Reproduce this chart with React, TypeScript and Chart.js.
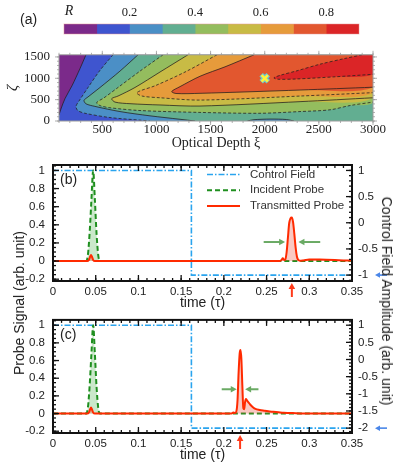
import React, { useEffect, useRef } from 'react';
import { Chart, registerables } from 'chart.js';
Chart.register(...registerables);

const SANS = '"Liberation Sans", Arial, sans-serif';
const SERIF = '"Liberation Serif", "Times New Roman", serif';

// ---------------- (a) contour map R(xi, zeta) ----------------
const levelColors = ['#7b2a8a', '#3f55cf', '#4b8fc6', '#62ae91', '#94bd5e', '#c8bb45', '#e69b3b', '#e2572f', '#db2527'];
const levelBounds = [0, 0.1, 0.2, 0.3, 0.4, 0.5, 0.6, 0.7, 0.8, 0.9];
const colorbarLabelValues = [0.015, 0.2, 0.4, 0.6, 0.8];
const xiMin = 100, xiMax = 3000, zetaMin = 0, zetaMax = 1550;
const xiTickStep = 500, zetaTickStep = 500;

// contour lines (xi, zeta)
const c1Xi = [349, 294, 220, 155, 118, 100];
const c1Zeta = [1550, 1228, 825, 523, 282, 141];
const c2Xi = [599, 479, 368, 294, 257, 275, 340, 571, 848, 940];
const c2Zeta = [1550, 1188, 785, 503, 342, 242, 181, 81, 20, 0];
const c3Xi = [830, 663, 479, 368, 331, 349, 432, 663, 940, 1218, 1356];
const c3Zeta = [1550, 1168, 785, 564, 483, 403, 342, 221, 121, 40, 0];
const islandXi = [1840, 1900, 2050, 2200, 2270];
const islandZeta = [0, 30, 45, 35, 0];
const c4Xi = [1061, 848, 645, 516, 448, 480, 571, 848, 1402, 1956, 2326, 2603, 2788, 3000];
const c4Zeta = [1550, 1168, 785, 543, 430, 360, 310, 245, 201, 181, 221, 262, 362, 443];
const c5Xi = [1291, 1033, 802, 645, 587, 617, 756, 1033, 1402, 2326, 3000];
const c5Zeta = [1550, 1147, 785, 584, 523, 443, 405, 375, 350, 453, 544];
const c6Xi = [1559, 1264, 987, 848, 818, 867, 1033, 1402, 2326, 3000];
const c6Zeta = [1550, 1147, 825, 705, 654, 584, 544, 490, 584, 664];
const c7Xi = [1901, 1633, 1402, 1218, 1141, 1181, 1402, 2326, 3000];
const c7Zeta = [1550, 1268, 1047, 805, 690, 644, 648, 725, 791];
const c8Xi = [2898, 2742, 2511, 2290, 2150, 2085, 2120, 2300, 2650, 3000];
const c8Zeta = [1550, 1465, 1330, 1170, 1075, 1010, 978, 985, 1035, 1093];
const markerXi = [2000];
const markerZeta = [1000];

// ---------------- (b), (c) probe signals ----------------
const timeMin = 0, timeMax = 0.35;
const controlT = [0, 0.162, 0.162, 0.35];
const controlBV = [1, 1, -1, -1];
const controlCV = [1, 1, -2, -2];
const incidentT = [0, 0.039, 0.041, 0.043, 0.045, 0.047, 0.049, 0.051, 0.053, 0.055, 0.35];
const incidentV = [0, 0, 0.08, 0.33, 0.68, 1, 0.68, 0.3, 0.06, 0, 0];
const transBT = [0, 0.040, 0.042, 0.0435, 0.0445, 0.0455, 0.047, 0.049, 0.265, 0.2675, 0.269, 0.2705, 0.272, 0.2735, 0.275, 0.2765, 0.278, 0.2795, 0.281, 0.2825, 0.284, 0.2855, 0.287, 0.289, 0.292, 0.296, 0.300, 0.306, 0.312, 0.320, 0.330, 0.340, 0.350];
const transBV = [0, 0, 0.012, 0.05, 0.066, 0.05, 0.012, 0, 0, 0.012, 0.03, 0.012, 0.02, 0.1, 0.26, 0.42, 0.47, 0.48, 0.43, 0.3, 0.15, 0.05, 0.012, 0.004, 0.006, 0.012, 0.016, 0.017, 0.016, 0.014, 0.011, 0.007, 0.005];
const transCT = [0, 0.040, 0.042, 0.0435, 0.0445, 0.0455, 0.047, 0.049, 0.209, 0.211, 0.213, 0.2145, 0.2160, 0.2172, 0.2185, 0.2195, 0.2205, 0.2217, 0.2228, 0.2238, 0.2248, 0.2258, 0.2270, 0.2290, 0.2310, 0.2340, 0.2370, 0.2420, 0.2470, 0.2520, 0.2580, 0.2640, 0.2700, 0.2800, 0.2900, 0.3000, 0.3500];
const transCV = [0, 0, 0.012, 0.05, 0.07, 0.05, 0.012, 0, 0, 0.012, 0.006, 0.02, 0.15, 0.45, 0.68, 0.72, 0.62, 0.3, 0.06, 0.05, 0.13, 0.165, 0.15, 0.125, 0.1, 0.072, 0.052, 0.04, 0.032, 0.025, 0.02, 0.015, 0.01, 0.005, 0.002, 0, 0];

// annotation anchors (data units)
const annB = { arrowY: 0.21, left: [0.2466, 0.2717], right: [0.3128, 0.2873], peakT: 0.2796, ctrlLow: -1 };
const annC = { arrowY: 0.275, left: [0.1975, 0.2151], right: [0.2405, 0.2249], peakT: 0.219, ctrlLow: -2 };
const rangeB = { y: [-0.22, 1.06], y2: [-1.113, 1.104] };
const rangeC = { y: [-0.22, 1.06], y2: [-2.142, 1.1545] };

const pts = (xs: number[], ys: number[]) => xs.map((x, i) => ({ x, y: ys[i] }));
const fmt = (v: any) => String(Math.round(Number(v) * 1000) / 1000);
const stepTicks = (step: number) => (s: any) => {
  const out: any[] = [];
  for (let n = Math.ceil(s.min / step - 1e-9); n * step <= s.max + 1e-9; n++) out.push({ value: n * step });
  s.ticks = out;
};

function framePlugin(cfg: any) {
  return {
    id: 'frameTicks',
    afterDraw(chart: any) {
      const { ctx, chartArea: a } = chart;
      ctx.save();
      ctx.strokeStyle = cfg.color;
      ctx.lineWidth = cfg.tickWidth;
      for (const t of cfg.axes) {
        const s = chart.scales[t.scale];
        for (const [step, len] of [[t.major, cfg.majorLen], [t.minor, cfg.minorLen]]) {
          const n0 = Math.ceil(s.min / step - 1e-6);
          const n1 = Math.floor(s.max / step + 1e-6);
          for (let n = n0; n <= n1; n++) {
            const p = s.getPixelForValue(n * step);
            const d = cfg.inward ? len : -len;
            for (const side of t.sides) {
              ctx.beginPath();
              if (side === 'bottom') { ctx.moveTo(p, a.bottom); ctx.lineTo(p, a.bottom - d); }
              else if (side === 'top') { ctx.moveTo(p, a.top); ctx.lineTo(p, a.top + d); }
              else if (side === 'left') { ctx.moveTo(a.left, p); ctx.lineTo(a.left + d, p); }
              else { ctx.moveTo(a.right, p); ctx.lineTo(a.right - d, p); }
              ctx.stroke();
            }
          }
        }
      }
      ctx.lineWidth = cfg.frameWidth;
      ctx.strokeRect(a.left, a.top, a.right - a.left, a.bottom - a.top);
      ctx.restore();
    },
  };
}

function arrow(ctx: any, x1: number, y1: number, x2: number, y2: number, color: string, w: number, head: number) {
  const ang = Math.atan2(y2 - y1, x2 - x1);
  ctx.save();
  ctx.strokeStyle = color;
  ctx.fillStyle = color;
  ctx.lineWidth = w;
  ctx.setLineDash([]);
  ctx.beginPath();
  ctx.moveTo(x1, y1);
  ctx.lineTo(x2 - Math.cos(ang) * head * 0.6, y2 - Math.sin(ang) * head * 0.6);
  ctx.stroke();
  ctx.beginPath();
  ctx.moveTo(x2, y2);
  ctx.lineTo(x2 - head * Math.cos(ang) + head * 0.55 * Math.sin(ang), y2 - head * Math.sin(ang) - head * 0.55 * Math.cos(ang));
  ctx.lineTo(x2 - head * Math.cos(ang) - head * 0.55 * Math.sin(ang), y2 - head * Math.sin(ang) + head * 0.55 * Math.cos(ang));
  ctx.closePath();
  ctx.fill();
  ctx.restore();
}

function makeColorbar(): any {
  return {
    type: 'bar',
    data: {
      labels: ['R'],
      datasets: levelColors.map((c, i) => ({
        data: [[levelBounds[i], levelBounds[i + 1]]],
        backgroundColor: c,
        borderWidth: 0,
        grouped: false,
        barPercentage: 1,
        categoryPercentage: 1,
      })),
    },
    options: {
      indexAxis: 'y',
      responsive: false,
      animation: false,
      layout: { padding: { left: 64, right: 40, top: 0, bottom: 4 } },
      plugins: { legend: { display: false }, tooltip: { enabled: false } },
      scales: {
        x: {
          position: 'top',
          min: levelBounds[0],
          max: levelBounds[levelBounds.length - 1],
          grid: { display: false, drawTicks: false },
          border: { display: false },
          afterBuildTicks: (s: any) => { s.ticks = colorbarLabelValues.map((v) => ({ value: v })); },
          afterFit: (s: any) => { s.height = 24; },
          ticks: {
            padding: 4,
            color: '#222',
            maxRotation: 0,
            autoSkip: false,
            font: (c: any) => (c.tick && c.tick.value < 0.1 ? { family: SERIF, size: 14, style: 'italic' } : { family: SERIF, size: 12.5 }),
            callback: (v: any) => (v < 0.1 ? 'R' : Number(v).toFixed(1)),
          },
        },
        y: { display: false },
      },
    },
    plugins: [
      {
        id: 'panelA',
        afterDraw(chart: any) {
          const { ctx } = chart;
          ctx.save();
          ctx.font = `14px ${SANS}`;
          ctx.fillStyle = '#222';
          ctx.textBaseline = 'middle';
          ctx.fillText('(a)', 20, 20);
          ctx.strokeStyle = 'rgba(230,150,150,0.6)';
          ctx.lineWidth = 0.8;
          const a = chart.chartArea;
          ctx.strokeRect(a.left, a.top, a.right - a.left, a.bottom - a.top);
          ctx.restore();
        },
      },
    ],
  };
}

function makeContour(): any {
  const corners = { bl: { x: xiMin, y: zetaMin }, br: { x: xiMax, y: zetaMin }, tr: { x: xiMax, y: zetaMax }, tl: { x: xiMin, y: zetaMax } };
  const lines = [
    { p: pts(c1Xi, c1Zeta), dashed: false },
    { p: pts(c2Xi, c2Zeta), dashed: true },
    { p: pts(c3Xi, c3Zeta), dashed: false },
    { p: pts(c4Xi, c4Zeta), dashed: true },
    { p: pts(c5Xi, c5Zeta), dashed: false },
    { p: pts(c6Xi, c6Zeta), dashed: true },
    { p: pts(c7Xi, c7Zeta), dashed: false },
    { p: pts(c8Xi, c8Zeta), dashed: true },
    { p: pts(islandXi, islandZeta), dashed: false },
  ];
  const regions = [
    [corners.bl, corners.br, corners.tr, corners.tl],
    [...lines[0].p, corners.bl, corners.br, corners.tr],
    [...lines[1].p, corners.br, corners.tr],
    [...lines[2].p, ...lines[8].p, corners.br, corners.tr],
    [...lines[3].p, corners.tr],
    [...lines[4].p, corners.tr],
    [...lines[5].p, corners.tr],
    [...lines[6].p, corners.tr],
    [...lines[7].p, corners.tr],
  ];
  const datasets: any[] = [];
  regions.forEach((r, k) => {
    datasets.push({
      data: r,
      showLine: true,
      fill: 'shape',
      backgroundColor: levelColors[k],
      borderColor: 'rgba(0,0,0,0)',
      borderWidth: 0,
      pointRadius: 0,
      tension: 0.3,
      order: 100 - k,
    });
  });
  lines.forEach((l) => {
    datasets.push({
      data: l.p,
      showLine: true,
      fill: false,
      borderColor: 'rgba(35,30,30,0.85)',
      borderWidth: 0.9,
      borderDash: l.dashed ? [3, 2] : [],
      pointRadius: 0,
      tension: 0.3,
      order: 50,
    });
  });
  datasets.push({ data: pts(markerXi, markerZeta), pointStyle: 'crossRot', pointRadius: 5, borderWidth: 5, borderColor: '#63c9d8', backgroundColor: '#63c9d8', order: 2 });
  datasets.push({ data: pts(markerXi, markerZeta), pointStyle: 'crossRot', pointRadius: 4.5, borderWidth: 2.6, borderColor: '#fff13a', backgroundColor: '#fff13a', order: 1 });

  return {
    type: 'scatter',
    data: { datasets },
    options: {
      responsive: false,
      animation: false,
      layout: { padding: { left: 0, right: 26, top: 6, bottom: 0 } },
      plugins: { legend: { display: false }, tooltip: { enabled: false } },
      scales: {
        x: {
          type: 'linear',
          min: xiMin,
          max: xiMax,
          grid: { display: false, drawTicks: false },
          border: { display: false },
          afterBuildTicks: stepTicks(xiTickStep),
          afterFit: (s: any) => { s.height = 31; },
          ticks: { padding: 1, color: '#222', maxRotation: 0, autoSkip: false, font: { family: SERIF, size: 13 }, callback: fmt },
          title: { display: true, text: 'Optical Depth ξ', color: '#222', font: { family: SERIF, size: 14 }, padding: { top: 0, bottom: 0 } },
        },
        y: {
          type: 'linear',
          min: zetaMin,
          max: zetaMax,
          grid: { display: false, drawTicks: false },
          border: { display: false },
          afterBuildTicks: stepTicks(zetaTickStep),
          afterFit: (s: any) => { s.width = 59; },
          ticks: { padding: 9, color: '#222', autoSkip: false, font: { family: SERIF, size: 13 }, callback: fmt },
          title: { display: true, text: 'ζ', color: '#222', font: { family: SERIF, size: 15, style: 'italic' }, padding: { top: 4, bottom: 0 } },
        },
      },
    },
    plugins: [
      framePlugin({
        color: '#9a9a9a', tickWidth: 0.8, frameWidth: 1, majorLen: 4, minorLen: 2, inward: false,
        axes: [
          { scale: 'x', sides: ['bottom', 'top'], major: 500, minor: 100 },
          { scale: 'y', sides: ['left', 'right'], major: 500, minor: 100 },
        ],
      }),
    ],
  };
}

function makeProbe(panel: 'b' | 'c'): any {
  const isB = panel === 'b';
  const trans = isB ? pts(transBT, transBV) : pts(transCT, transCV);
  const control = pts(controlT, isB ? controlBV : controlCV);
  const ann = isB ? annB : annC;
  const rng = isB ? rangeB : rangeC;
  const blue = '#2aa4ee', green = '#1f8f1f', red = '#ff2a00';
  const legendItems = [
    { label: 'Control Field', color: blue, dash: [6, 2, 1.5, 2], w: 1.6 },
    { label: 'Incident Probe', color: green, dash: [5, 3], w: 2 },
    { label: 'Transmitted Probe', color: red, dash: [], w: 2 },
  ];
  return {
    type: 'scatter',
    data: {
      datasets: [
        { label: 'Transmitted Probe', data: trans, showLine: true, borderColor: red, borderWidth: 2, backgroundColor: 'rgba(240,85,65,0.32)', fill: 'origin', pointRadius: 0, cubicInterpolationMode: 'monotone', yAxisID: 'y', order: 1 },
        { label: 'Incident Probe', data: pts(incidentT, incidentV), showLine: true, borderColor: green, borderWidth: 2, borderDash: [5, 3], backgroundColor: 'rgba(90,185,90,0.32)', fill: 'origin', pointRadius: 0, cubicInterpolationMode: 'monotone', yAxisID: 'y', order: 2 },
        { label: 'Control Field', data: control, showLine: true, borderColor: blue, borderWidth: 1.6, borderDash: [6, 2, 1.5, 2], fill: false, pointRadius: 0, tension: 0, yAxisID: 'y2', order: 3 },
      ],
    },
    options: {
      responsive: false,
      animation: false,
      layout: { padding: { left: 0, right: 0, top: isB ? 15 : 13, bottom: 0 } },
      plugins: { legend: { display: false }, tooltip: { enabled: false } },
      scales: {
        x: {
          type: 'linear',
          min: timeMin,
          max: timeMax,
          grid: { display: false, drawTicks: false },
          border: { display: false },
          afterBuildTicks: stepTicks(0.05),
          afterFit: (s: any) => { s.height = 31; },
          ticks: { padding: 4, color: '#222', maxRotation: 0, autoSkip: false, font: { family: SANS, size: 11.5 }, callback: fmt },
          title: { display: true, text: 'time (τ)', color: '#222', font: { family: SANS, size: 14 }, padding: { top: 0, bottom: 0 } },
        },
        y: {
          type: 'linear',
          position: 'left',
          min: rng.y[0],
          max: rng.y[1],
          grid: { display: false, drawTicks: false },
          border: { display: false },
          afterBuildTicks: stepTicks(0.2),
          afterFit: (s: any) => { s.width = 53; },
          ticks: { padding: 8, color: '#222', autoSkip: false, font: { family: SANS, size: 11.5 }, callback: fmt },
        },
        y2: {
          type: 'linear',
          position: 'right',
          min: rng.y2[0],
          max: rng.y2[1],
          grid: { display: false, drawTicks: false },
          border: { display: false },
          afterBuildTicks: stepTicks(0.5),
          afterFit: (s: any) => { s.width = 47; },
          ticks: { padding: 6, color: '#222', autoSkip: false, font: { family: SANS, size: 11.5 }, callback: fmt },
        },
      },
    },
    plugins: [
      framePlugin({
        color: '#111', tickWidth: 1.3, frameWidth: 2, majorLen: 6, minorLen: 3, inward: true,
        axes: [
          { scale: 'x', sides: ['bottom', 'top'], major: 0.05, minor: 0.01 },
          { scale: 'y', sides: ['left'], major: 0.2, minor: 0.05 },
          { scale: 'y2', sides: ['right'], major: 0.5, minor: 0.1 },
        ],
      }),
      {
        id: 'annot',
        afterDatasetsDraw(chart: any) {
          const { ctx, chartArea: a, scales } = chart;
          const { x, y, y2 } = scales;
          ctx.save();
          ctx.font = `14px ${SANS}`;
          ctx.fillStyle = '#222';
          ctx.textBaseline = 'middle';
          ctx.fillText(`(${panel})`, a.left + 7, a.top + 15);
          if (isB) {
            ctx.font = `11.5px ${SANS}`;
            ctx.fillStyle = '#333';
            legendItems.forEach((it, i) => {
              const yy = a.top + 9.5 + i * 15.7;
              ctx.save();
              ctx.strokeStyle = it.color;
              ctx.lineWidth = it.w;
              ctx.setLineDash(it.dash);
              ctx.beginPath();
              ctx.moveTo(a.right - 145, yy);
              ctx.lineTo(a.right - 112, yy);
              ctx.stroke();
              ctx.restore();
              ctx.fillText(it.label, a.right - 102, yy);
            });
          }
          const gy = y.getPixelForValue(ann.arrowY);
          arrow(ctx, x.getPixelForValue(ann.left[0]), gy, x.getPixelForValue(ann.left[1]), gy, '#6aaa64', 2, 6);
          arrow(ctx, x.getPixelForValue(ann.right[0]), gy, x.getPixelForValue(ann.right[1]), gy, '#6aaa64', 2, 6);
          const px = x.getPixelForValue(ann.peakT);
          arrow(ctx, px, a.bottom + 16, px, a.bottom + 2, '#ff3a1a', 2, 6);
          const by = y2.getPixelForValue(ann.ctrlLow);
          arrow(ctx, a.right + 35, by, a.right + 23, by, '#4a86e8', 1.6, 5);
          ctx.restore();
        },
      },
    ],
  };
}

function ChartBox({ left, top, width, height, make }: { left: number; top: number; width: number; height: number; make: () => any }) {
  const ref = useRef<HTMLCanvasElement>(null);
  useEffect(() => {
    const chart = new Chart(ref.current as HTMLCanvasElement, make());
    return () => chart.destroy();
  }, []);
  return <canvas ref={ref} width={width} height={height} style={{ position: 'absolute', left, top, width, height }} />;
}

export default function App() {
  const vlabel: React.CSSProperties = { position: 'absolute', whiteSpace: 'nowrap', fontFamily: SANS, fontSize: 14, color: '#222', lineHeight: '16px' };
  return (
    <div style={{ position: 'absolute', left: 0, top: 0, width: 399, height: 464, background: '#fff', overflow: 'hidden' }}>
      <ChartBox left={0} top={0} width={399} height={38} make={makeColorbar} />
      <ChartBox left={0} top={38} width={399} height={114} make={makeContour} />
      <ChartBox left={0} top={150} width={399} height={162} make={() => makeProbe('b')} />
      <ChartBox left={0} top={305} width={399} height={159} make={() => makeProbe('c')} />
      <div style={{ ...vlabel, left: 19, top: 303, transform: 'translate(-50%, -50%) rotate(-90deg)' }}>Probe Signal (arb. unit)</div>
      <div style={{ ...vlabel, left: 387, top: 301, transform: 'translate(-50%, -50%) rotate(90deg)' }}>Control Field Amplitude (arb. unit)</div>
    </div>
  );
}
